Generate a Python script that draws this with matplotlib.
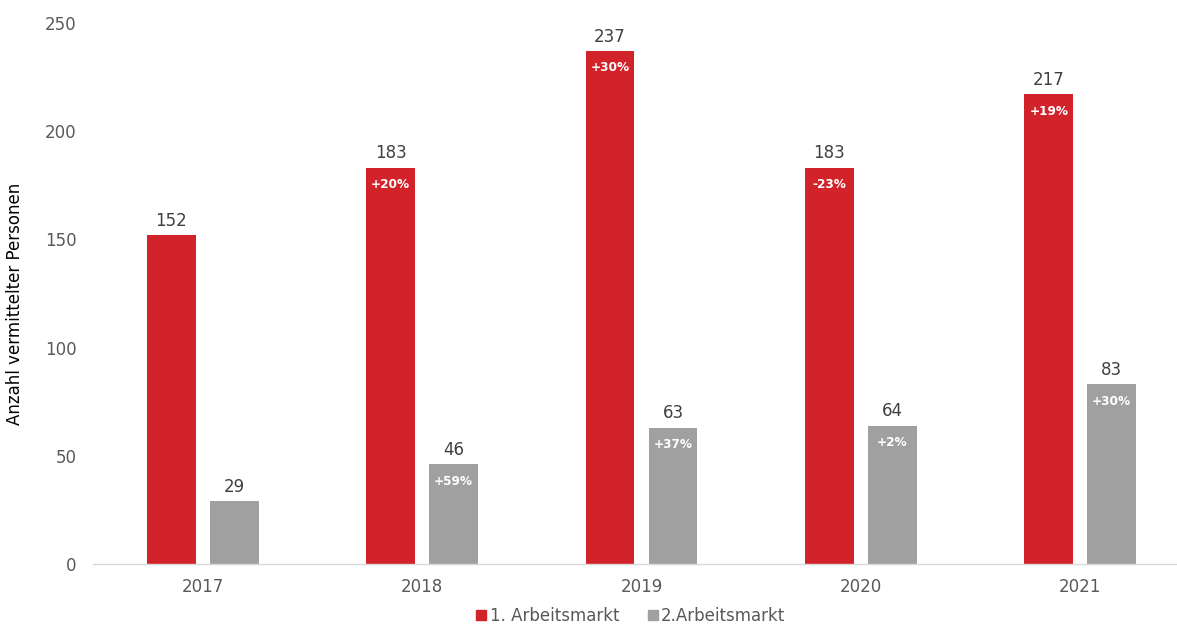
import matplotlib
matplotlib.use("Agg")
import matplotlib.pyplot as plt
from matplotlib.lines import Line2D
import numpy as np

years = ["2017", "2018", "2019", "2020", "2021"]
markt1 = [152, 183, 237, 183, 217]
markt2 = [29, 46, 63, 64, 83]
change1 = [None, "+20%", "+30%", "-23%", "+19%"]
change2 = [None, "+59%", "+37%", "+2%", "+30%"]
series_names = ["1. Arbeitsmarkt", "2.Arbeitsmarkt"]
y_label = "Anzahl vermittelter Personen"

RED = "#D2232A"
GREY = "#A0A0A0"
TXT = "#595959"

plt.rcParams["font.family"] = ["DejaVu Sans"]

fig = plt.figure(figsize=(11.77, 6.25), dpi=100)
# axes run slightly past the right figure edge
ax = fig.add_axes([93 / 1177, 1 - 564 / 625, (1190 - 93) / 1177, (564 - 23) / 625])

x = np.arange(len(years))
w = 0.223
off = 0.1435
b1 = ax.bar(x - off, markt1, w, color=RED)
b2 = ax.bar(x + off, markt2, w, color=GREY)

for bars, vals, chg in ((b1, markt1, change1), (b2, markt2, change2)):
    for bar, v, c in zip(bars, vals, chg):
        cx = bar.get_x() + bar.get_width() / 2
        ax.annotate(str(v), (cx, v), xytext=(0, 4), textcoords="offset points",
                    ha="center", va="bottom", fontsize=12, color="#404040")
        if c:
            ax.annotate(c, (cx, v), xytext=(0, -12), textcoords="offset points",
                        ha="center", va="center", fontsize=8.7, color="white",
                        fontweight="bold")

ax.set_xlim(-0.5, len(years) - 0.5)
ax.set_ylim(0, 250)
ax.set_yticks([0, 50, 100, 150, 200, 250])
ax.set_xticks(x)
ax.set_xticklabels(years)
ax.tick_params(axis="both", length=0, labelsize=12, labelcolor=TXT)
ax.tick_params(axis="y", pad=12)
ax.tick_params(axis="x", pad=10)

for s in ("top", "right", "left"):
    ax.spines[s].set_visible(False)
ax.spines["bottom"].set_color("#D9D9D9")
ax.spines["bottom"].set_linewidth(1)

fig.text(15 / 1177, 1 - 304 / 625, y_label, rotation=90, ha="center", va="center",
         fontsize=12, color="black")

handles = [Line2D([], [], marker="s", linestyle="none", markersize=7.5,
                  markerfacecolor=c, markeredgecolor=c) for c in (RED, GREY)]
fig.legend(handles, series_names, loc="center", ncol=2,
           bbox_to_anchor=(630 / 1177, 1 - 616 / 625), frameon=False,
           fontsize=12, labelcolor=TXT, handlelength=0.8, handletextpad=0.1,
           columnspacing=1.6, borderpad=0)

fig.savefig("out.png", dpi=100)
